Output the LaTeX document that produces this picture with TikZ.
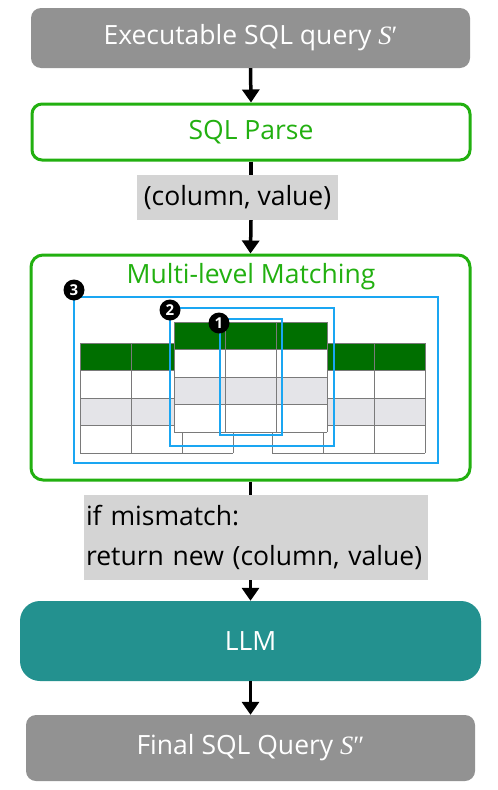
\documentclass[tikz,border=0pt]{standalone}
\usepackage{fontspec}
\setmainfont{Open Sans}
\newfontfamily\sserif{Liberation Serif}
\usetikzlibrary{arrows.meta}
\definecolor{boxgray}{HTML}{929292}
\definecolor{pgreen}{HTML}{22B010}
\definecolor{lblgray}{HTML}{D4D4D4}
\definecolor{llmteal}{HTML}{23918F}
\definecolor{hdrgreen}{HTML}{006F00}
\definecolor{rowgray}{HTML}{E4E4E8}
\definecolor{selblue}{HTML}{1AA6F2}
\definecolor{tblgray}{HTML}{7A7A7A}
\newcommand\mytable[2]{%
  \fill[hdrgreen] (#1,#2) rectangle ++(153,27.5);
  \fill[white] (#1,#2+27.5) rectangle ++(153,82.5);
  \fill[rowgray] (#1,#2+55) rectangle ++(153,27.5);
  \foreach \i in {0,1,2,3} \draw[tblline] (#1+\i*51,#2) -- ++(0,110);
  \foreach \j in {0,...,4} \draw[tblline] (#1,#2+\j*27.5) -- ++(153,0);
}
\newcommand\SQ[1]{{\sserif\itshape S}{\sserif #1}}
\tikzset{
  txt/.style={font=\fontsize{26.5}{30}\selectfont},
  greybox/.style={txt, fill=boxgray, rounded corners=10pt, text=white, inner sep=0pt},
  greenbox/.style={txt, draw=pgreen, line width=3pt, rounded corners=10pt, text=pgreen, inner sep=0pt},
  lbl/.style={txt, fill=lblgray, inner sep=0pt},
  arr/.style={-{Triangle[length=13pt,width=17pt]}, line width=3.5pt},
  conn/.style={line width=3.5pt},
  tblline/.style={tblgray, line width=1pt},
  selbox/.style={selblue, line width=2pt},
  badge/.style={circle, fill=black, text=white, inner sep=0pt, minimum size=21pt, font=\fontsize{15}{15}\selectfont\bfseries}
}
\begin{document}
\begin{tikzpicture}[x=1pt,y=-1pt]
\useasboundingbox[fill=white] (0,0) rectangle (498,790);
\node[greybox, minimum width=439pt, minimum height=60pt] (top) at (250.5,38) {Executable SQL query \SQ{′}};
\node[greenbox, minimum width=438pt, minimum height=56pt] (parse) at (251,132) {SQL Parse};
\node[lbl, minimum width=201pt, minimum height=45pt] (lbl1) at (237.5,197.5) {(column, value)};
\node[greenbox, minimum width=439pt, minimum height=225pt, rounded corners=12pt] (match) at (250.5,367.5) {};
\node[txt, text=pgreen] (mtitle) at (251,277) {Multi-level Matching};
\mytable{80}{343}
\mytable{272}{343}
\mytable{174}{322}
\draw[selbox] (74,297) rectangle (438,463);
\draw[selbox] (170,308) rectangle (334,446);
\draw[selbox] (220,319) rectangle (282,435);
\node[badge] (b3) at (74,290) {3};
\node[badge] (b2) at (170,310) {2};
\node[badge] (b1) at (219,323) {1};
\node[lbl, minimum width=344pt, minimum height=85pt, text width=340pt, align=left, font=\fontsize{26.5}{40}\selectfont] (lbl2) at (256,537.5) {if mismatch:\\return new (column, value)};
\node[greybox, fill=llmteal, rounded corners=20pt, minimum width=461pt, minimum height=80pt] (llm) at (250.5,641) {LLM};
\node[greybox, minimum width=449pt, minimum height=66pt] (final) at (250.5,748) {Final SQL Query \SQ{″}};
\draw[arr] (top.south) -- (parse.north);
\draw[conn] (parse.south) -- (parse.south |- lbl1.north);
\draw[arr] (parse.south |- lbl1.south) -- (match.north);
\draw[conn] (match.south) -- (match.south |- lbl2.north);
\draw[arr] (match.south |- lbl2.south) -- (llm.north);
\draw[arr] (llm.south) -- (final.north);
\end{tikzpicture}
\end{document}
